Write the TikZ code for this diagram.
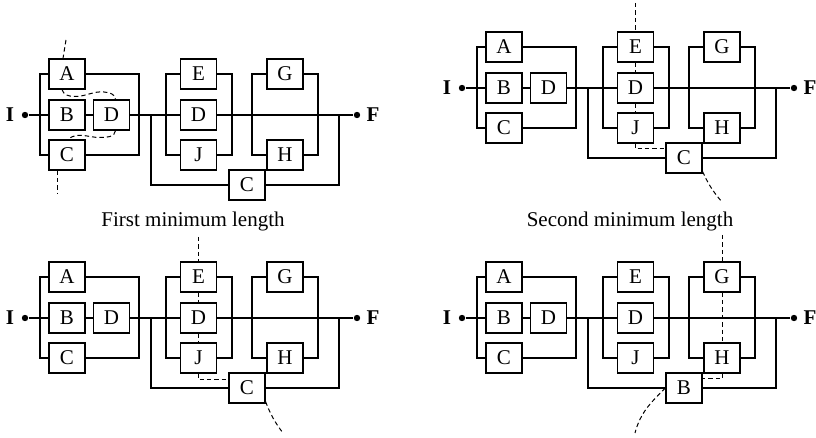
\documentclass[tikz,border=0pt]{standalone}
\usepackage{fontspec}
\setmainfont{Liberation Serif}
\usetikzlibrary{positioning}
\tikzset{
  blk/.style={
    rectangle,
    draw,
    fill=white,
    line width=0.6pt,
    minimum width=18pt,
    minimum height=15pt,
    inner sep=0pt,
    font=\fontsize{10.5}{12}\selectfont
  },
  term/.style={inner sep=0pt, font=\fontsize{10.5}{12}\selectfont\bfseries},
  dot/.style={circle, fill, inner sep=0pt, minimum size=3.2pt},
  wire/.style={line width=0.6pt},
  cutline/.style={line width=0.5pt, dash pattern=on 2.2pt off 1.5pt},
  caption/.style={inner sep=0pt, font=\fontsize{10.5}{12}\selectfont}
}
\newcommand{\rbdsystem}[3]{%
\begin{scope}[shift={#2}]
\node[dot] (#1in) at (0,0) {};
\node[term] (#1I) at (-15,0) {I};
\node[blk] (#1A) at (42,-41) {A};
\node[blk] (#1B) at (42,0) {B};
\node[blk] (#1C) at (42,40) {C};
\node[blk] (#1D) at (86.5,0) {D};
\node[blk] (#1E) at (173.5,-41) {E};
\node[blk] (#1Dm) at (173.5,0) {D};
\node[blk] (#1J) at (173.5,40) {J};
\node[blk] (#1G) at (260,-41) {G};
\node[blk] (#1H) at (260,40) {H};
\node[blk] (#1X) at (222,70) {#3};
\node[dot] (#1out) at (332,0) {};
\node[term] (#1F) at (348,0) {F};
\coordinate (#1s1) at (15,0);
\coordinate (#1s2) at (114,0);
\coordinate (#1s3) at (141,0);
\coordinate (#1s4) at (207,0);
\coordinate (#1s5) at (227,0);
\coordinate (#1s6) at (293,0);
\coordinate (#1s7) at (126,0);
\coordinate (#1s8) at (314,0);
\end{scope}
\draw[wire] (#1in) -- (#1B) -- (#1D) -- (#1Dm) -- (#1out);
\draw[wire] (#1A.west) -| (#1s1) |- (#1C.west);
\draw[wire] (#1A.east) -| (#1s2) |- (#1C.east);
\draw[wire] (#1E.west) -| (#1s3) |- (#1J.west);
\draw[wire] (#1E.east) -| (#1s4) |- (#1J.east);
\draw[wire] (#1G.west) -| (#1s5) |- (#1H.west);
\draw[wire] (#1G.east) -| (#1s6) |- (#1H.east);
\draw[wire] (#1s7) |- (#1X.west);
\draw[wire] (#1X.east) -| (#1s8);
}

\begin{document}
\begin{tikzpicture}[x=0.5pt, y=-0.5pt]
\useasboundingbox (0,0) rectangle (816,438);

\rbdsystem{tl}{(25,115)}{C}
\rbdsystem{tr}{(462,88)}{C}
\rbdsystem{bl}{(25,318)}{C}
\rbdsystem{br}{(462,318)}{B}

\node[caption] (first) at (193,221) {First minimum length};
\node[caption] (second) at (630,221) {Second minimum length};

\coordinate (tlcut1) at (66,40);
\coordinate (tlcut2) at (57,193);
\draw[cutline] (tlcut1) -- ([xshift=-2pt]tlA.north);
\draw[cutline] ([xshift=-2.5pt]tlA.south) to[out=-75,in=180] (75,96.5)
  to[out=0,in=175] (104,92) to[out=-5,in=90] ([xshift=2pt]tlD.north);
\draw[cutline] ([xshift=2pt]tlD.south) to[out=-95,in=0] (100,137.5)
  to[out=180,in=40] ([xshift=0.5pt]tlC.north);
\draw[cutline] ([xshift=-5pt]tlC.south) -- (tlcut2);

\coordinate (trcut1) at (635.5,3);
\coordinate (trcut2) at (722,202);
\draw[cutline] (trcut1) -- (trE.north);
\draw[cutline] (trE.south) -- (trDm.north);
\draw[cutline] (trDm.south) -- (trJ.north);
\draw[cutline] (trJ.south) |- ([yshift=4.5pt]trX.west);
\draw[cutline] ([yshift=1pt]trX.south east) to[bend right=8] (trcut2);

\coordinate (blcut1) at (198.5,237);
\coordinate (blcut2) at (283,433);
\draw[cutline] (blcut1) -- (blE.north);
\draw[cutline] (blE.south) -- (blDm.north);
\draw[cutline] (blDm.south) -- (blJ.north);
\draw[cutline] (blJ.south) |- ([yshift=4pt]blX.west);
\draw[cutline] ([yshift=1pt]blX.south east) to[bend right=8] (blcut2);

\coordinate (brcut1) at (722,235);
\coordinate (brcut2) at (635,433);
\draw[cutline] (brcut1) -- (brG.north);
\draw[cutline] (brG.south) -- (brH.north);
\draw[cutline] (brH.south) |- ([yshift=4.5pt]brX.east);
\draw[cutline] (brX.west) to[out=-135,in=75] (brcut2);
\end{tikzpicture}
\end{document}
